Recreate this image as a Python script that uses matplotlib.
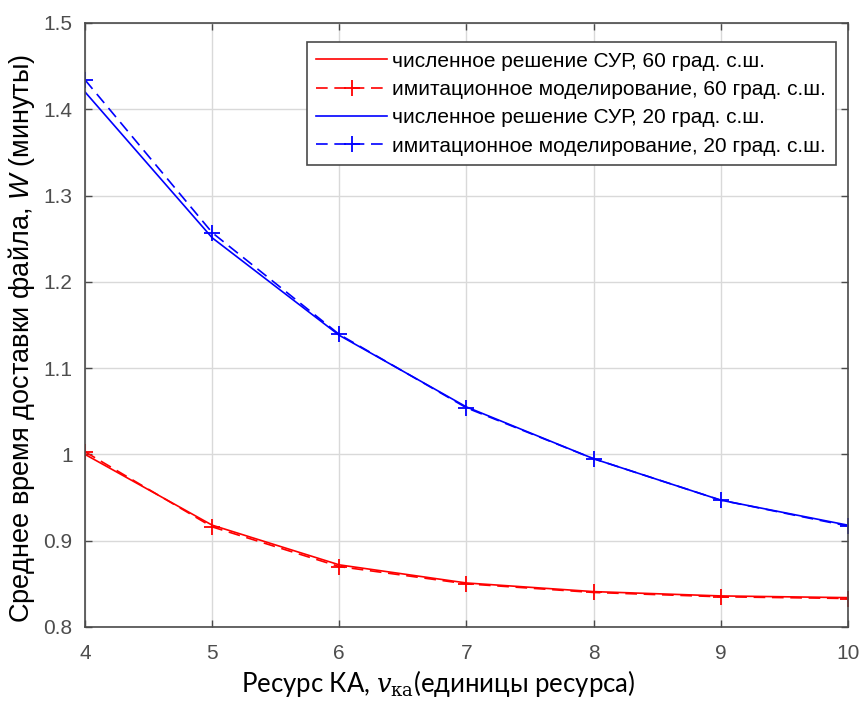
import matplotlib
matplotlib.use("Agg")
import matplotlib.pyplot as plt

x = [4, 5, 6, 7, 8, 9, 10]
num_60 = [1.000, 0.918, 0.872, 0.851, 0.841, 0.836, 0.834]
sim_60 = [1.003, 0.916, 0.870, 0.850, 0.840, 0.835, 0.833]
num_20 = [1.420, 1.251, 1.138, 1.055, 0.995, 0.947, 0.918]
sim_20 = [1.434, 1.257, 1.139, 1.054, 0.995, 0.947, 0.917]

labels = [
    "численное решение СУР, 60 град. с.ш.",
    "имитационное моделирование, 60 град. с.ш.",
    "численное решение СУР, 20 град. с.ш.",
    "имитационное моделирование, 20 град. с.ш.",
]
xticks = [4, 5, 6, 7, 8, 9, 10]
yticks = [0.8, 0.9, 1.0, 1.1, 1.2, 1.3, 1.4, 1.5]
yticklabels = ["0.8", "0.9", "1", "1.1", "1.2", "1.3", "1.4", "1.5"]

plt.rcParams['font.family'] = ['Liberation Sans', 'DejaVu Sans']
plt.rcParams['mathtext.fontset'] = 'custom'
plt.rcParams['mathtext.rm'] = 'Liberation Sans'
plt.rcParams['mathtext.it'] = 'Liberation Sans:italic'

fig = plt.figure(figsize=(8.59, 7.04), dpi=100)
ax = fig.add_axes([0.099, 0.1094, 0.888, 0.858])

lw = 1.2
ax.plot(x, num_60, color='#ff0000', lw=lw, label=labels[0])
ax.plot(x, sim_60, color='#ff0000', lw=lw, ls=(0, (7, 4)), marker='+', ms=12, mew=1.3, label=labels[1])
ax.plot(x, num_20, color='#0000ff', lw=lw, label=labels[2])
ax.plot(x, sim_20, color='#0000ff', lw=lw, ls=(0, (7, 4)), marker='+', ms=12, mew=1.3, label=labels[3])

ax.set_xlim(4, 10)
ax.set_ylim(0.8, 1.5)
ax.set_xticks(xticks)
ax.set_yticks(yticks)
ax.set_yticklabels(yticklabels)
ax.grid(True, color='#d9d9d9', lw=1.0)
ax.set_axisbelow(True)
ax.tick_params(direction='in', top=True, right=True, length=5, width=1,
               colors='#4a4a4a', labelsize=15, labelcolor='#4d4d4d')
ax.tick_params(axis='x', pad=12)
ax.tick_params(axis='y', pad=9)
for s in ax.spines.values():
    s.set_color('#4a4a4a')
    s.set_linewidth(1.2)

ax.set_ylabel("Среднее время доставки файла, $\\mathit{W}$ (минуты)", fontsize=19.5,
              color='black')
ax.yaxis.set_label_coords(-0.063, 0.478)
ax.set_xlabel("Ресурс КА, $v_{\\mathrm{ка}}$(единицы ресурса)", fontsize=18.5,
              color='black', family=['Lato', 'DejaVu Sans'], math_fontfamily='dejavuserif')
ax.xaxis.set_label_coords(0.463, -0.068)

leg = ax.legend(loc='upper right', bbox_to_anchor=(0.984, 0.968), borderaxespad=0,
                fontsize=15, handlelength=3.4, handletextpad=0.25,
                labelspacing=0.45, fancybox=False, framealpha=1,
                edgecolor='#4a4a4a', borderpad=0.45)
leg.get_frame().set_linewidth(1.2)

fig.savefig("out.png", dpi=100)
